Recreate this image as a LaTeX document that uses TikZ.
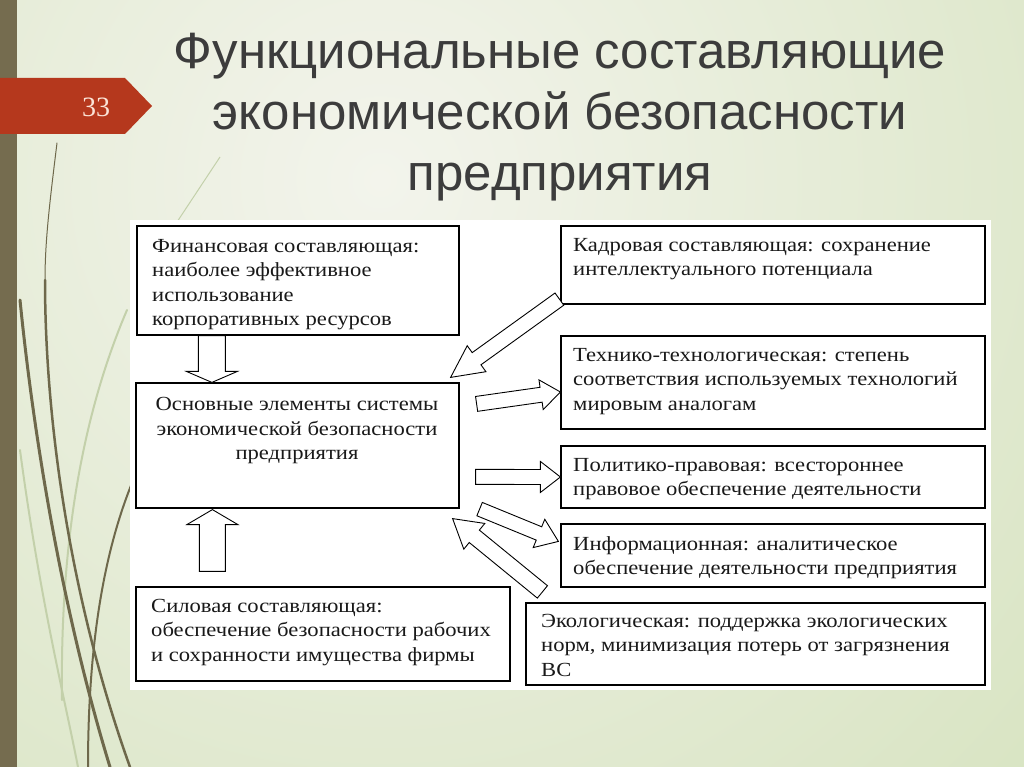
\documentclass[tikz,border=0pt]{standalone}
\usepackage{fontspec}
\setmainfont{Liberation Serif}
\newfontfamily\titlefont{Liberation Sans}
\newfontfamily\bodyfont[FakeStretch=1.13]{Liberation Serif}
\usetikzlibrary{calc}
\definecolor{bgl}{HTML}{F3F4EC}
\definecolor{bgd}{HTML}{D8E4C2}
\definecolor{olive}{HTML}{6E684B}
\definecolor{barcol}{HTML}{756C4F}
\definecolor{tabred}{HTML}{B5381D}
\definecolor{tabtext}{HTML}{FBE3D6}
\definecolor{titlegray}{HTML}{3C3C3C}
\definecolor{faint}{HTML}{C3D0AA}
\tikzset{
  box/.style={draw=black, line width=1.2pt, fill=white, inner sep=0pt},
  txt/.style={font=\bodyfont\fontsize{20}{24.5}\selectfont, inner sep=0pt, align=left, anchor=north west, text=black!90},
  blockarrow/.style={draw=black, line width=0.9pt, fill=white, line join=miter},
  grass/.style={draw=olive, line cap=round},
  fgrass/.style={draw=faint, line cap=round, line width=2pt},
}
% tail, tip, shaft half width, head half width, head length
\newcommand{\blkarrow}[5]{%
  \coordinate (bah) at ($(#2)!#5pt!(#1)$);
  \draw[blockarrow] ($(#1)!#3pt!90:(#2)$) -- ($(bah)!#3pt!90:(#2)$) -- ($(bah)!#4pt!90:(#2)$) -- (#2) -- ($(bah)!#4pt!-90:(#2)$) -- ($(bah)!#3pt!-90:(#2)$) -- ($(#1)!#3pt!-90:(#2)$) -- cycle;
}
\begin{document}
\begin{tikzpicture}[x=1pt,y=-1pt]
\useasboundingbox (0,0) rectangle (1024,767);
% background
\fill[bgd] (0,0) rectangle (1024,767);
\begin{scope}
  \clip (0,0) rectangle (1024,767);
  \shade[inner color=bgl, outer color=bgd] (380,180) circle (900);
\end{scope}
% grass
\draw[fgrass] (127,310) .. controls (80,420) and (60,550) .. (62,700);
\draw[fgrass] (20,450) .. controls (40,600) and (65,700) .. (78,767);
\draw[faint, line width=1pt] (220,157) -- (177,222);
\draw[grass, line width=1pt] (57,143) .. controls (50,200) and (45,240) .. (45,280);
\draw[grass, line width=2.5pt] (45,280) .. controls (45,420) and (70,600) .. (130,767);
\draw[grass, line width=3pt] (20,300) .. controls (35,450) and (65,620) .. (110,767);
\draw[grass, line width=2pt] (132,483) .. controls (105,550) and (88,640) .. (88,767);
% left bar and tab
\fill[barcol] (0,0) rectangle (17,767);
\fill[tabred] (0,78) -- (125,78) -- (152,106) -- (125,134) -- (0,134) -- cycle;
\node[font=\fontsize{28}{32}\selectfont, text=tabtext, inner sep=0pt] (num) at (96,107) {33};
% title
\node[font=\titlefont\fontsize{51}{61}\selectfont, text=titlegray, align=center, anchor=north, inner sep=0pt] (title) at (560,33) {Функциональные составляющие\\экономической безопасности\\предприятия};
% panel
\fill[white] (130,220) rectangle (991,690);
% boxes
\node[box, minimum width=322pt, minimum height=109pt] (fin) at (298,280.5) {};
\node[box, minimum width=323pt, minimum height=125pt] (main) at (297.5,445.5) {};
\node[box, minimum width=374pt, minimum height=94pt] (sil) at (323,634) {};
\node[box, minimum width=424pt, minimum height=78pt] (kadr) at (773,265) {};
\node[box, minimum width=424pt, minimum height=93pt] (tech) at (773,382.5) {};
\node[box, minimum width=424pt, minimum height=62pt] (polit) at (773,477) {};
\node[box, minimum width=424pt, minimum height=63pt] (info) at (773,555.5) {};
\node[box, minimum width=459pt, minimum height=82pt] (eco) at (755.5,644) {};
% texts
\node[txt] (fint) at (152,239) {Финансовая составляющая:\\наиболее эффективное\\использование\\корпоративных ресурсов};
\node[txt, align=center, anchor=north] (maint) at (297,397.5) {Основные элементы системы\\экономической безопасности\\предприятия};
\node[txt] (silt) at (151,599) {Силовая составляющая:\\обеспечение безопасности рабочих\\и сохранности имущества фирмы};
\node[txt] (kadrt) at (573,238) {Кадровая составляющая: сохранение\\интеллектуального потенциала};
\node[txt] (techt) at (573,348) {Технико-технологическая: степень\\соответствия используемых технологий\\мировым аналогам};
\node[txt] (politt) at (573,458) {Политико-правовая: всестороннее\\правовое обеспечение деятельности};
\node[txt] (infot) at (573,536) {Информационная: аналитическое\\обеспечение деятельности предприятия};
\node[txt] (ecot) at (541,614) {Экологическая: поддержка экологических\\норм, минимизация потерь от загрязнения\\ВС};
% arrow end points
\coordinate (a1t) at ($(fin.south west)+(75.5,0)$);
\coordinate (a1h) at ($(main.north west)+(76.5,0)$);
\coordinate (a2t) at ($(sil.north west)+(77,-15)$);
\coordinate (a2h) at ($(main.south west)+(77,1)$);
\coordinate (a3t) at ($(kadr.south west)+(-1,-5.5)$);
\coordinate (a3h) at ($(main.north east)+(-9,-5)$);
\coordinate (a4t) at ($(main.north east)+(17,21.5)$);
\coordinate (a4h) at ($(tech.west)+(0,9.5)$);
\coordinate (a5t) at ($(main.north east)+(16,94.5)$);
\coordinate (a5h) at (polit.west);
\coordinate (a6t) at ($(main.south east)+(20,0.5)$);
\coordinate (a6h) at ($(info.north west)+(-2,18)$);
\coordinate (a7t) at ($(eco.north west)+(17,-10.5)$);
\coordinate (a7h) at ($(main.south east)+(-7,10)$);
\blkarrow{a1t}{a1h}{13.5}{25.5}{11}
\blkarrow{a2t}{a2h}{13}{25.5}{15}
\blkarrow{a3t}{a3h}{7.5}{16}{32}
\blkarrow{a4t}{a4h}{7.5}{15}{19.5}
\blkarrow{a5t}{a5h}{7.5}{15.5}{20}
\blkarrow{a6t}{a6h}{7.2}{15.3}{21}
\blkarrow{a7t}{a7h}{8}{16.6}{28}
\end{tikzpicture}
\end{document}
